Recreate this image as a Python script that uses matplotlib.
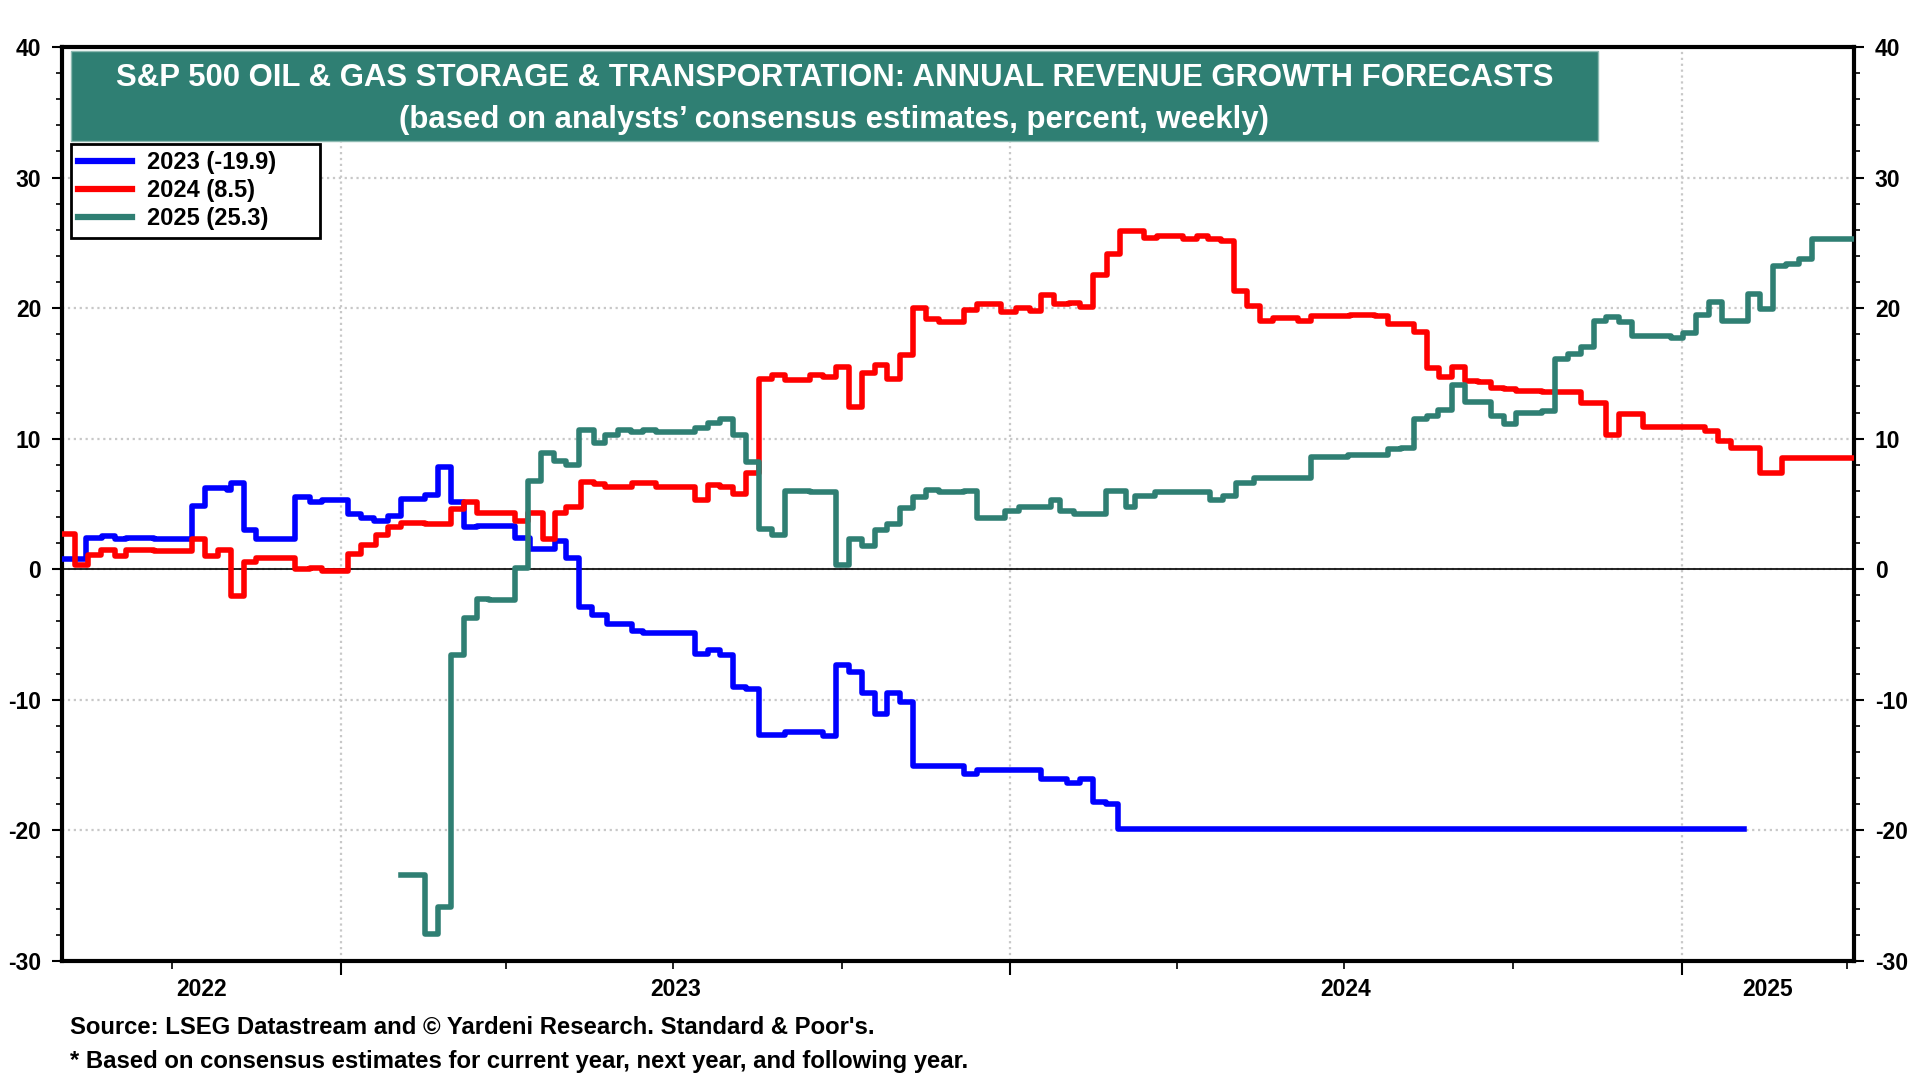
import matplotlib
matplotlib.use('Agg')
import matplotlib.pyplot as plt
import matplotlib.dates as mdates
import matplotlib.transforms as mtransforms
from matplotlib.patches import Rectangle
from matplotlib.ticker import MultipleLocator
import pandas as pd

plt.rcParams['font.family'] = ['Liberation Sans', 'DejaVu Sans']
plt.rcParams['font.weight'] = 'bold'
plt.rcParams['axes.unicode_minus'] = False

# weekly consensus forecasts, given as the dates where the value changes
dates_2023 = ['2022-08-03', '2022-08-15', '2022-08-24', '2022-08-31', '2022-09-06', '2022-09-21',
              '2022-10-12', '2022-10-19', '2022-10-31', '2022-11-02', '2022-11-09', '2022-11-16',
              '2022-12-07', '2022-12-15', '2022-12-22', '2023-01-05', '2023-01-12', '2023-01-19',
              '2023-01-27', '2023-02-03', '2023-02-16', '2023-02-23', '2023-03-02', '2023-03-09',
              '2023-03-16', '2023-04-06', '2023-04-14', '2023-04-28', '2023-05-04', '2023-05-11',
              '2023-05-18', '2023-05-26', '2023-06-09', '2023-06-15', '2023-07-13', '2023-07-20',
              '2023-07-27', '2023-08-03', '2023-08-10', '2023-08-17', '2023-08-31', '2023-09-21',
              '2023-09-28', '2023-10-05', '2023-10-12', '2023-10-19', '2023-10-26', '2023-11-02',
              '2023-11-09', '2023-12-07', '2023-12-14', '2024-01-18', '2024-02-01', '2024-02-08',
              '2024-02-15', '2024-02-22', '2024-02-29', '2025-02-04']
vals_2023 = [0.8, 2.4, 2.55, 2.3, 2.43, 2.3,
             4.85, 6.25, 6.08, 6.6, 3.0, 2.35,
             5.55, 5.16, 5.3, 4.2, 3.9, 3.7,
             4.1, 5.4, 5.67, 7.8, 5.16, 3.2,
             3.3, 2.43, 1.58, 2.17, 0.9, -2.9,
             -3.5, -4.16, -4.72, -4.85, -6.5, -6.2,
             -6.6, -9.0, -9.2, -12.7, -12.5, -12.8,
             -7.3, -7.9, -9.5, -11.1, -9.5, -10.2,
             -15.1, -15.7, -15.4, -16.1, -16.4, -16.1,
             -17.8, -18.0, -19.9, -19.9]

dates_2024 = ['2022-08-03', '2022-08-09', '2022-08-16', '2022-08-23', '2022-08-31', '2022-09-06',
              '2022-09-21', '2022-10-12', '2022-10-19', '2022-10-26', '2022-11-02', '2022-11-09',
              '2022-11-16', '2022-12-07', '2022-12-15', '2022-12-22', '2023-01-05', '2023-01-12',
              '2023-01-20', '2023-01-27', '2023-02-03', '2023-02-16', '2023-03-02', '2023-03-09',
              '2023-03-16', '2023-04-06', '2023-04-13', '2023-04-21', '2023-04-28', '2023-05-04',
              '2023-05-12', '2023-05-19', '2023-05-25', '2023-06-09', '2023-06-22', '2023-07-13',
              '2023-07-20', '2023-07-27', '2023-08-03', '2023-08-10', '2023-08-17', '2023-08-24',
              '2023-08-31', '2023-09-14', '2023-09-21', '2023-09-28', '2023-10-05', '2023-10-12',
              '2023-10-19', '2023-10-26', '2023-11-02', '2023-11-09', '2023-11-16', '2023-11-23',
              '2023-12-07', '2023-12-14', '2023-12-27', '2024-01-04', '2024-01-12', '2024-01-18',
              '2024-01-25', '2024-02-02', '2024-02-08', '2024-02-15', '2024-02-23', '2024-03-01',
              '2024-03-14', '2024-03-21', '2024-04-04', '2024-04-12', '2024-04-18', '2024-04-25',
              '2024-05-02', '2024-05-09', '2024-05-16', '2024-05-23', '2024-06-06', '2024-06-13',
              '2024-07-04', '2024-07-18', '2024-07-25', '2024-08-08', '2024-08-15', '2024-08-22',
              '2024-08-29', '2024-09-05', '2024-09-12', '2024-09-19', '2024-09-26', '2024-10-03',
              '2024-10-17', '2024-10-24', '2024-11-07', '2024-11-21', '2024-11-28', '2024-12-11',
              '2025-01-14', '2025-01-21', '2025-01-28', '2025-02-13', '2025-02-25', '2025-04-04']
vals_2024 = [2.7, 0.3, 1.08, 1.5, 1.0, 1.5,
             1.4, 2.3, 1.0, 1.5, -2.05, 0.56,
             0.85, 0.0, 0.13, -0.13, 1.15, 1.85,
             2.6, 3.2, 3.57, 3.45, 4.6, 5.16,
             4.34, 3.7, 4.3, 2.3, 4.34, 4.8,
             6.72, 6.56, 6.3, 6.59, 6.28, 5.3,
             6.49, 6.33, 5.77, 7.36, 14.54, 14.87,
             14.49, 14.87, 14.74, 15.46, 12.44, 15.05,
             15.62, 14.55, 16.4, 20.0, 19.2, 18.95,
             19.83, 20.35, 19.7, 20.0, 19.8, 20.97,
             20.3, 20.38, 20.08, 22.56, 24.15, 25.9,
             25.4, 25.5, 25.33, 25.5, 25.33, 25.13,
             21.3, 20.2, 19.03, 19.28, 19.03, 19.36,
             19.49, 19.36, 18.77, 18.2, 15.44, 14.74,
             15.51, 14.41, 14.31, 13.9, 13.77, 13.64,
             13.54, 13.6, 12.7, 10.3, 11.9, 10.9,
             10.6, 9.8, 9.3, 7.4, 8.5, 8.5]

dates_2025 = ['2023-02-03', '2023-02-16', '2023-02-23', '2023-03-02', '2023-03-09', '2023-03-16',
              '2023-03-23', '2023-04-06', '2023-04-13', '2023-04-20', '2023-04-27', '2023-05-04',
              '2023-05-11', '2023-05-19', '2023-05-25', '2023-06-01', '2023-06-08', '2023-06-15',
              '2023-06-22', '2023-07-13', '2023-07-20', '2023-07-27', '2023-08-03', '2023-08-10',
              '2023-08-17', '2023-08-24', '2023-08-31', '2023-09-14', '2023-09-28', '2023-10-05',
              '2023-10-12', '2023-10-19', '2023-10-26', '2023-11-02', '2023-11-09', '2023-11-16',
              '2023-11-23', '2023-12-07', '2023-12-14', '2023-12-29', '2024-01-06', '2024-01-23',
              '2024-01-28', '2024-02-05', '2024-02-22', '2024-03-04', '2024-03-09', '2024-03-20',
              '2024-04-19', '2024-04-26', '2024-05-03', '2024-05-13', '2024-06-13', '2024-07-03',
              '2024-07-25', '2024-08-01', '2024-08-08', '2024-08-15', '2024-08-21', '2024-08-29',
              '2024-09-05', '2024-09-19', '2024-09-26', '2024-10-03', '2024-10-17', '2024-10-24',
              '2024-10-31', '2024-11-07', '2024-11-14', '2024-11-21', '2024-11-28', '2024-12-05',
              '2024-12-26', '2025-01-02', '2025-01-09', '2025-01-16', '2025-01-23', '2025-02-06',
              '2025-02-13', '2025-02-20', '2025-02-27', '2025-03-06', '2025-03-13', '2025-04-04']
vals_2025 = [-23.4, -27.9, -25.9, -6.59, -3.7, -2.25,
             -2.35, 0.13, 6.77, 8.94, 8.3, 8.0,
             10.65, 9.68, 10.26, 10.63, 10.48, 10.63,
             10.5, 10.8, 11.2, 11.54, 10.26, 8.2,
             3.05, 2.6, 6.03, 5.9, 0.3, 2.3,
             1.8, 3.0, 3.46, 4.7, 5.5, 6.08,
             5.9, 6.03, 3.9, 4.5, 4.8, 5.3,
             4.5, 4.2, 6.0, 4.8, 5.6, 5.9,
             5.3, 5.6, 6.6, 7.0, 8.6, 8.77,
             9.18, 9.28, 11.49, 11.74, 12.18, 14.15,
             12.82, 11.74, 11.15, 12.0, 12.1, 16.1,
             16.5, 17.0, 19.0, 19.3, 18.9, 17.9,
             17.7, 18.1, 19.5, 20.5, 19.0, 21.1,
             19.9, 23.2, 23.4, 23.8, 25.3, 25.3]

labels = ['2023 (-19.9)', '2024 (8.5)', '2025 (25.3)']
colors = ['#0000ff', '#ff0000', '#2f7f73']

fig = plt.figure(figsize=(19.2, 10.8), dpi=100)
ax = fig.add_axes([0.0323, 0.1102, 0.9333, 0.8463])

for d, v, lab, c in zip([dates_2023, dates_2024, dates_2025],
                        [vals_2023, vals_2024, vals_2025], labels, colors):
    ax.plot(pd.to_datetime(d), v, drawstyle='steps-post', color=c, lw=4,
            label=lab, zorder=3)

x0, x1 = pd.Timestamp('2022-08-02'), pd.Timestamp('2025-04-05')
ax.set_xlim(x0, x1)
ax.set_ylim(-30, 40)
ax.axhline(0, color='black', lw=1.2, zorder=2)

# axes styling
for s in ax.spines.values():
    s.set_linewidth(3)
ax.yaxis.set_major_locator(MultipleLocator(10))
ax.yaxis.set_minor_locator(MultipleLocator(2))
ax.tick_params(axis='y', which='both', left=True, right=True, labelleft=True,
               labelright=True, direction='out', labelsize=16.5)
ax.tick_params(axis='y', which='major', length=7, width=1.5, pad=8)
ax.tick_params(axis='y', which='minor', length=4, width=1.2)
ax.xaxis.set_major_locator(mdates.YearLocator())
ax.xaxis.set_minor_locator(mdates.MonthLocator(bymonth=[4, 7, 10]))
ax.tick_params(axis='x', which='major', length=10, width=1.5, labelbottom=False)
ax.tick_params(axis='x', which='minor', length=6, width=1.2)
ax.grid(True, which='major', linestyle=':', color='#c8c8c8', lw=1.6)

# year labels centred on the visible part of each year
trans = mtransforms.blended_transform_factory(ax.transData, ax.transAxes)
for yr in [2022, 2023, 2024, 2025]:
    a = max(pd.Timestamp(f'{yr}-01-01'), x0)
    b = min(pd.Timestamp(f'{yr + 1}-01-01'), x1)
    mid = a + (b - a) / 2
    ax.text(mdates.date2num(mid), -0.031, str(yr), transform=trans,
            ha='center', va='center', fontsize=16.5)

# title box
fig.patches.append(Rectangle((0.037, 0.8694), 0.7953, 0.0833, transform=fig.transFigure,
                             facecolor='#2f7f73', edgecolor='#8dbab2', lw=1, zorder=3))
fig.text(0.4346, 0.928, 'S&P 500 OIL & GAS STORAGE & TRANSPORTATION: ANNUAL REVENUE GROWTH FORECASTS',
         ha='center', va='center', color='white', fontsize=22.4, zorder=4)
fig.text(0.4346, 0.8885, '(based on analysts\u2019 consensus estimates, percent, weekly)',
         ha='center', va='center', color='white', fontsize=22.4, zorder=4)

leg = ax.legend(loc='upper left', bbox_to_anchor=(0.037, 0.7804, 0.1295, 0.0863),
                bbox_transform=fig.transFigure, mode='expand',
                borderaxespad=0, fancybox=False, framealpha=1, edgecolor='black',
                fontsize=17, handlelength=2.3, labelspacing=0.22, borderpad=0.3,
                handletextpad=0.6)
leg.get_frame().set_linewidth(2)
for h in leg.get_lines():
    h.set_linewidth(4.5)

fig.text(0.0365, 0.0485, 'Source: LSEG Datastream and \u00a9 Yardeni Research. Standard & Poor\'s.',
         ha='left', va='center', fontsize=17.2)
fig.text(0.0365, 0.0175, '* Based on consensus estimates for current year, next year, and following year.',
         ha='left', va='center', fontsize=17.2)

fig.savefig('out.png', dpi=100)
